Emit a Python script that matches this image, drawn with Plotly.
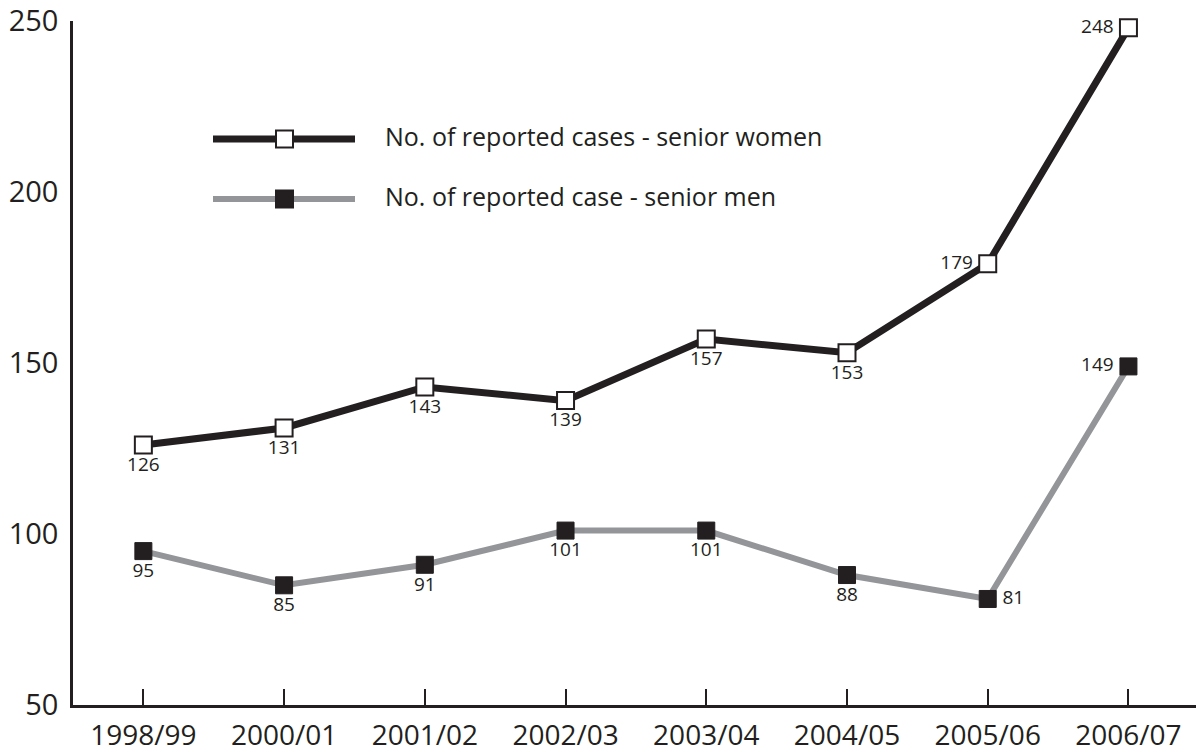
import plotly.graph_objects as go

years = ["1998/99", "2000/01", "2001/02", "2002/03", "2003/04", "2004/05", "2005/06", "2006/07"]
women = [126, 131, 143, 139, 157, 153, 179, 248]
men = [95, 85, 91, 101, 101, 88, 81, 149]
women_pos = ["bottom center"] * 6 + ["middle left", "middle left"]
men_pos = ["bottom center"] * 6 + ["middle right", "middle left"]
y_ticks = [50, 100, 150, 200, 250]

BLACK = "#231f20"
GRAY = "#939598"
FONT = "Open Sans"


def pad_labels(values, positions):
    out = []
    for v, p in zip(values, positions):
        if p == "middle left":
            out.append(f"{v}\u2009")
        elif p == "middle right":
            out.append(f"\u2009{v}")
        else:
            out.append(str(v))
    return out


fig = go.Figure()
fig.add_trace(go.Scatter(
    x=list(range(len(years))), y=women, mode="lines+markers+text",
    line=dict(color=BLACK, width=7),
    marker=dict(symbol="square", size=17, color="white", line=dict(color=BLACK, width=2)),
    text=pad_labels(women, women_pos), textposition=women_pos,
    textfont=dict(family=FONT, size=19, color=BLACK),
    showlegend=False, cliponaxis=False, hoverinfo="skip",
))
fig.add_trace(go.Scatter(
    x=list(range(len(years))), y=men, mode="lines+markers+text",
    line=dict(color=GRAY, width=6),
    marker=dict(symbol="square", size=17, color=BLACK, line=dict(color=BLACK, width=1)),
    text=pad_labels(men, men_pos), textposition=men_pos,
    textfont=dict(family=FONT, size=19, color=BLACK),
    showlegend=False, cliponaxis=False, hoverinfo="skip",
))

PLOT_T, PLOT_B, PLOT_L, PLOT_R = 21, 705, 73, 1196


def px_to_paper_y(py):
    return 1 - (py - PLOT_T) / (PLOT_B - PLOT_T)


def px_to_paper_x(px):
    return (px - PLOT_L) / (PLOT_R - PLOT_L)


# legend drawn manually (long sample lines like the reference)
def legend_item(py, color, lw, fill, label):
    yp = px_to_paper_y(py)
    fig.add_shape(type="line", xref="paper", yref="paper",
                  x0=px_to_paper_x(213), x1=px_to_paper_x(355), y0=yp, y1=yp,
                  line=dict(color=color, width=lw))
    fig.add_shape(type="rect", xref="paper", yref="paper",
                  x0=px_to_paper_x(276), x1=px_to_paper_x(293),
                  y0=px_to_paper_y(py + 8.5), y1=px_to_paper_y(py - 8.5),
                  fillcolor=fill, line=dict(color=BLACK, width=2))
    fig.add_annotation(xref="paper", yref="paper", x=px_to_paper_x(383), y=px_to_paper_y(py - 3),
                       text=label, showarrow=False, xanchor="left", yanchor="middle",
                       font=dict(family=FONT, size=25, color=BLACK))


legend_item(139, BLACK, 7, "white", "No. of reported cases - senior women")
legend_item(199, GRAY, 6, BLACK, "No. of reported case - senior men")

fig.update_layout(
    width=1196, height=751,
    margin=dict(l=PLOT_L, r=1196 - PLOT_R, t=PLOT_T, b=751 - PLOT_B, autoexpand=False),
    plot_bgcolor="white", paper_bgcolor="white",
    font=dict(family=FONT, color=BLACK),
)
fig.update_xaxes(
    range=[-0.5, 7.48], tickmode="array", tickvals=list(range(len(years))), ticktext=years,
    showgrid=False, zeroline=False, showline=True, linecolor=BLACK, linewidth=2.5,
    ticks="inside", ticklen=16, tickwidth=2, tickcolor=BLACK,
    tickfont=dict(family=FONT, size=28, color=BLACK), automargin=False,
    ticklabelstandoff=4,
)
fig.update_yaxes(
    range=[50, 250], tickmode="array", tickvals=y_ticks, ticktext=[str(v) for v in y_ticks],
    showgrid=False, zeroline=False, showline=True, linecolor=BLACK, linewidth=2.5,
    ticks="", ticklabelstandoff=6, automargin=False,
    tickfont=dict(family=FONT, size=29, color=BLACK),
)

fig.write_html(
    "out.html",
    config={"displayModeBar": False},
    post_script="document.body.style.margin='0px';document.body.style.overflow='hidden';",
)
